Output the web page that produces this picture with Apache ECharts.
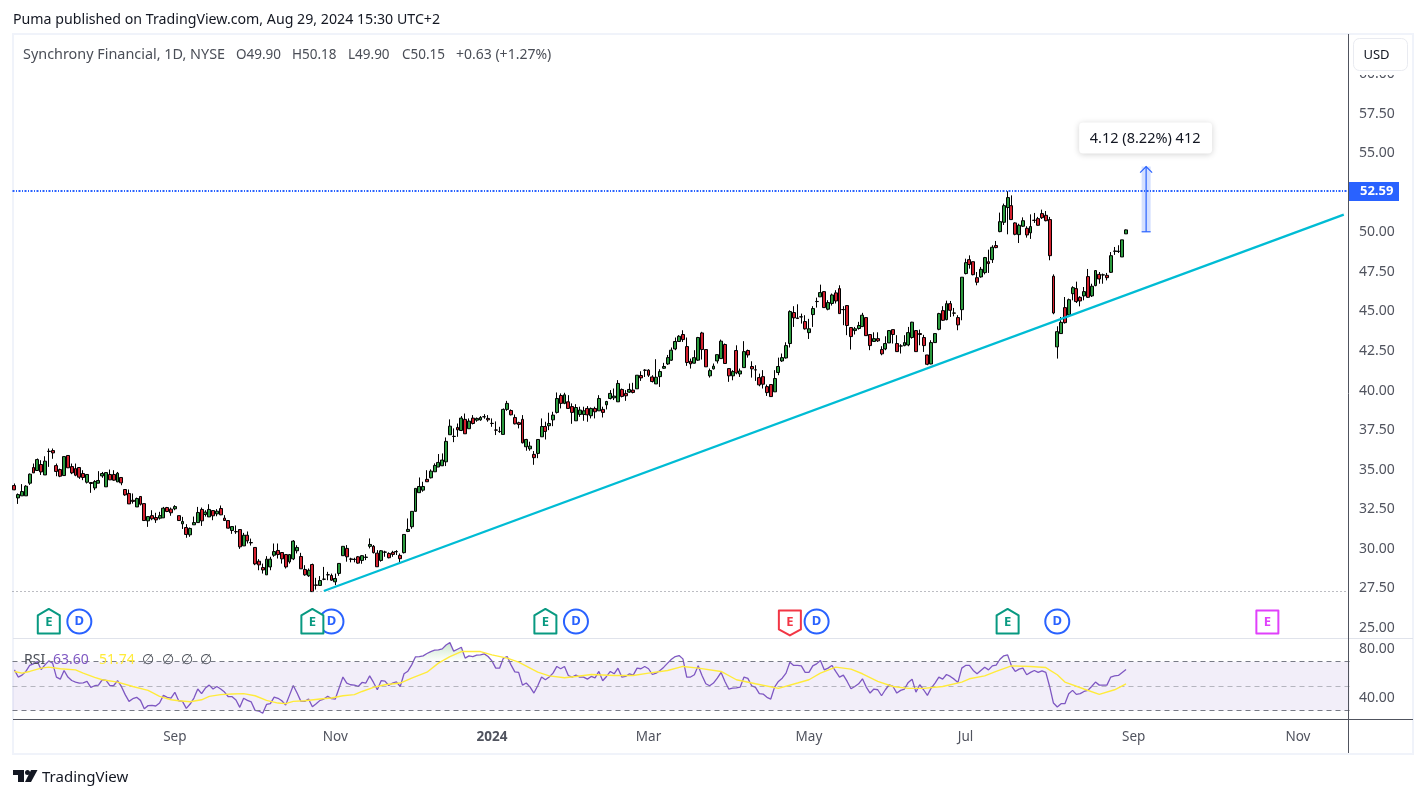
<!DOCTYPE html>
<html>
<head>
<meta charset="utf-8">
<title>Synchrony Financial, 1D</title>
<script src="https://cdn.jsdelivr.net/npm/echarts@6/dist/echarts.min.js"></script>
<style>
  html, body { margin: 0; padding: 0; background: #fff; }
  #chart { width: 1426px; height: 798px; }
</style>
</head>
<body>
<div id="chart"></div>
<script>
// Daily candles as [open, close, low, high], oldest first.
const candles = [
[34.00,33.73,33.71,34.13],[33.22,33.43,32.84,33.50],[33.35,33.62,33.35,34.09],[33.35,33.96,33.35,34.02],[34.15,34.72,34.04,34.76],
[35.14,34.80,34.80,35.39],[34.95,35.64,34.95,35.71],[35.33,34.86,34.67,35.60],[34.67,35.54,34.67,35.85],[36.17,36.15,35.18,36.34],
[36.21,36.06,35.69,36.34],[35.26,34.89,34.59,35.39],[35.01,34.59,34.53,35.07],[34.63,35.83,34.63,35.83],[35.90,35.12,35.12,35.90],
[35.20,34.80,34.72,35.39],[35.07,34.65,34.59,35.39],[35.14,34.53,34.42,35.14],[34.76,34.51,34.34,34.97],[34.21,34.70,34.13,34.70],
[34.19,34.13,33.54,34.19],[33.85,34.25,33.71,34.34],[34.15,34.32,34.15,34.91],[34.61,34.76,34.49,34.86],[33.92,34.82,33.92,34.82],
[34.70,34.36,34.36,35.01],[34.70,34.34,34.30,34.97],[34.23,34.78,34.23,34.86],[34.51,34.17,34.02,34.51],[33.75,33.41,33.35,33.75],
[33.50,32.84,32.84,33.75],[33.07,33.00,32.86,33.50],[32.65,33.18,32.65,33.24],[33.31,32.82,32.74,33.31],[32.86,31.79,31.79,32.86],
[31.77,32.04,31.39,32.04],[32.10,31.90,31.81,32.44],[31.98,31.83,31.64,32.28],[31.94,32.10,31.85,32.34],[31.96,32.57,31.96,32.65],
[32.61,32.36,32.32,32.65],[32.51,32.28,32.09,32.61],[32.53,32.67,32.44,32.76],[32.10,31.79,31.77,32.10],[31.58,31.73,31.26,32.02],
[31.35,30.91,30.70,31.56],[30.89,31.29,30.76,31.35],[31.52,31.66,31.52,32.04],[31.66,32.30,31.66,32.65],[32.49,31.77,31.45,32.61],
[32.17,32.32,32.04,32.44],[32.02,32.49,32.02,32.82],[32.42,32.09,31.81,32.42],[32.21,32.38,32.06,32.51],[32.55,32.15,32.13,32.74],
[31.94,31.79,31.77,32.13],[31.79,31.31,31.29,31.79],[31.16,31.41,30.95,31.41],[31.09,31.08,30.95,31.48],[31.22,30.13,30.00,31.22],
[30.19,30.86,30.19,31.01],[30.86,30.51,30.34,31.10],[30.40,30.38,30.21,30.65],[30.09,29.05,28.97,30.09],[29.22,28.99,28.65,29.35],
[28.82,28.67,28.44,29.07],[28.36,29.35,28.36,29.54],[28.86,29.35,28.65,29.50],[29.60,29.83,29.50,30.34],[29.90,29.64,29.39,30.34],
[29.77,29.37,29.07,29.77],[29.64,28.86,28.76,29.64],[29.18,29.64,29.07,29.64],[29.37,30.49,29.29,30.55],[29.88,30.09,29.71,30.23],
[29.52,28.74,28.74,29.75],[28.70,28.36,28.30,28.97],[28.30,28.65,28.23,28.76],[29.01,27.30,27.30,29.07],[27.72,27.70,27.43,28.17],
[27.69,28.00,27.69,28.28],[28.08,28.09,28.02,28.86],[28.36,28.37,28.02,28.55],[28.32,28.02,27.98,28.44],[27.92,28.13,27.71,28.44],
[28.45,29.08,28.30,29.08],[29.57,30.16,29.57,30.16],[30.03,29.50,29.19,30.24],[29.36,29.35,29.15,29.44],[29.33,29.34,29.15,29.44],
[29.50,29.10,29.06,29.55],[29.27,29.57,29.06,29.61],[29.46,29.48,29.29,29.67],[30.16,30.28,30.03,30.66],[30.16,29.76,29.71,30.24],
[29.73,28.87,28.87,29.92],[29.27,29.88,29.19,29.92],[29.79,29.80,29.50,29.88],[29.71,29.44,29.40,29.78],[29.78,29.65,29.50,29.88],
[29.82,29.83,29.61,29.92],[29.59,29.38,29.12,29.71],[29.76,30.91,29.71,30.91],[31.10,31.23,31.06,31.92],[31.40,32.37,31.27,32.37],
[32.37,33.82,32.35,33.82],[33.55,33.94,33.55,34.51],[33.71,33.94,33.61,34.24],[34.39,34.24,34.24,34.97],[34.49,34.91,34.45,35.02],
[34.87,35.27,34.87,35.40],[35.17,35.46,35.17,35.99],[35.25,35.61,35.23,36.03],[35.50,36.79,35.23,37.04],[37.21,37.75,37.21,38.18],
[37.10,37.11,36.74,37.61],[37.67,37.52,37.08,37.92],[37.48,38.26,37.44,38.39],[38.18,37.27,37.27,38.55],[37.59,38.07,37.59,38.24],
[38.26,37.92,37.86,38.45],[38.13,38.24,38.03,38.30],[38.15,38.30,38.09,38.39],[38.34,38.35,38.22,38.51],[38.24,38.15,38.03,38.45],
[37.93,37.92,37.71,38.24],[37.51,37.50,37.19,38.05],[37.42,37.41,37.33,37.71],[37.23,38.81,37.23,38.87],[38.81,39.19,38.72,39.35],
[38.74,38.47,38.43,38.81],[38.30,37.90,37.86,38.49],[37.97,37.86,37.61,38.03],[38.18,36.70,36.66,38.45],[36.45,36.91,36.20,36.95],
[36.32,36.49,36.20,36.77],[35.97,35.76,35.31,36.18],[36.03,36.91,35.73,36.91],[37.08,37.73,37.08,38.24],[37.73,37.42,36.91,38.03],
[37.78,37.92,37.50,38.60],[38.15,38.45,37.75,38.66],[38.62,39.50,38.55,39.88],[39.69,39.19,38.87,39.82],[39.19,39.73,39.14,39.86],
[39.29,38.87,38.87,39.71],[38.99,38.62,37.90,39.19],[38.09,38.93,38.09,39.14],[38.49,38.77,38.34,38.98],[38.49,38.72,38.09,38.98],
[38.87,38.47,38.03,39.02],[38.41,38.87,38.24,38.93],[38.87,38.66,38.24,38.98],[38.72,39.50,38.72,39.71],[38.81,38.62,38.30,38.98],
[39.10,39.31,38.81,39.35],[39.50,39.82,39.44,40.03],[39.54,39.65,39.40,40.13],[39.29,40.45,39.29,40.66],[40.07,39.63,39.57,40.13],
[39.82,39.67,39.35,40.03],[39.90,40.07,39.86,40.45],[40.03,39.88,39.82,40.49],[40.11,40.97,40.11,40.97],[40.95,40.80,40.61,41.22],
[41.29,41.28,40.86,41.35],[41.29,40.97,40.86,41.35],[40.86,40.57,40.51,40.97],[40.42,40.84,40.42,41.98],[40.88,41.20,40.23,41.35],
[41.41,41.52,41.37,41.75],[41.68,42.08,41.62,42.25],[41.92,42.55,41.87,42.72],[42.63,43.10,42.55,43.35],[43.10,43.43,43.10,43.50],
[43.54,43.22,43.07,43.81],[42.78,41.77,41.56,43.35],[41.85,41.68,41.39,42.02],[41.73,42.08,41.71,42.55],[41.92,43.35,41.87,43.39],
[43.64,42.59,41.96,43.71],[42.59,41.50,41.50,42.59],[40.93,41.26,40.82,41.39],[41.37,41.54,41.33,41.71],[41.87,42.27,41.71,42.27],
[42.02,43.12,42.02,43.22],[42.91,41.71,41.71,42.97],[41.39,40.93,40.55,41.39],[40.93,41.20,40.65,41.29],[42.53,41.12,41.03,42.86],
[41.05,41.24,40.86,41.39],[41.45,42.46,41.45,43.12],[42.53,42.25,42.08,42.59],[41.52,41.37,40.82,41.85],[41.31,41.30,40.61,41.60],
[40.82,40.36,40.27,41.07],[40.88,40.40,40.13,41.29],[40.25,39.87,39.66,40.38],[40.38,39.62,39.62,40.38],[39.92,40.76,39.92,41.29],
[41.14,41.52,40.97,42.08],[41.87,42.08,41.81,42.34],[42.06,42.84,42.02,43.05],[42.97,44.99,42.72,45.07],[44.93,44.59,44.02,45.33],
[44.59,44.55,44.53,45.45],[44.65,44.66,44.23,44.86],[44.36,43.90,43.85,44.76],[43.66,43.90,43.26,44.53],[44.80,45.18,44.02,45.33],
[45.62,45.63,45.24,45.87],[45.92,46.19,45.92,46.69],[46.25,45.24,45.22,46.27],[45.14,45.56,45.07,45.71],[45.50,46.04,45.37,46.13],
[46.17,45.66,45.50,46.34],[46.44,44.86,44.86,46.65],[45.12,45.11,44.13,45.33],[45.37,44.11,43.50,45.39],[43.98,43.41,42.59,43.98],
[43.79,43.90,43.54,44.02],[43.92,44.11,43.85,44.34],[44.04,44.76,44.02,44.91],[44.61,43.47,43.45,44.61],[43.54,42.84,42.55,43.54],
[43.10,43.28,43.10,43.68],[43.28,43.14,43.07,43.68],[42.59,42.32,42.23,42.80],[42.63,42.97,42.55,43.43],[43.01,43.79,43.01,43.81],
[43.85,43.54,42.97,43.85],[42.97,42.46,42.44,43.50],[42.82,42.81,42.34,42.93],[42.84,43.03,42.80,43.50],[42.88,43.66,42.80,44.02],
[43.35,44.32,43.28,44.34],[43.79,42.46,42.44,43.81],[43.60,43.54,42.86,43.85],[43.35,42.84,42.44,43.52],[42.25,41.66,41.60,42.25],
[41.68,43.03,41.66,43.18],[43.03,43.60,43.01,43.60],[43.87,44.86,43.81,44.91],[45.05,44.44,44.40,45.33],[44.48,45.49,44.44,45.68],
[45.49,45.07,44.65,45.66],[44.90,44.89,44.69,45.22],[44.61,44.15,43.81,44.76],[45.11,47.16,44.44,47.16],[47.39,48.08,47.34,48.33],
[48.27,47.96,47.70,48.54],[48.14,47.32,47.28,48.14],[47.13,46.84,46.65,47.49],[47.18,47.66,47.13,47.81],[47.45,48.40,47.34,48.44],
[48.14,48.02,47.43,48.90],[48.27,49.05,48.06,49.18],[49.16,49.03,48.99,49.45],[50.04,50.67,50.00,51.24],[50.63,51.68,50.46,51.81],
[51.56,52.19,49.87,52.59],[51.68,50.80,50.80,52.33],[50.59,49.87,49.81,50.63],[49.85,50.44,49.32,50.54],[50.38,50.73,50.33,50.94],
[50.25,49.83,49.66,50.38],[49.96,50.36,49.58,51.13],[50.76,50.75,50.59,51.22],[50.86,50.44,50.42,50.97],[51.18,50.92,50.84,51.43],
[51.07,50.73,50.69,51.34],[50.80,48.52,48.23,50.97],[47.22,44.90,44.82,47.34],[42.76,43.72,42.02,44.06],[43.60,44.31,43.60,44.65],
[45.24,44.29,44.23,45.91],[44.78,45.74,44.73,45.81],[46.12,46.50,45.70,46.59],[46.44,45.62,45.53,46.88],[45.89,45.66,45.32,45.96],
[45.98,46.25,45.70,46.54],[47.20,45.89,45.85,47.68],[45.98,46.59,45.91,46.75],[46.63,47.58,46.59,47.60],[47.34,47.05,46.75,47.49],
[47.30,47.31,46.75,47.39],[47.28,47.13,46.96,47.43],[47.47,48.52,47.43,48.75],[48.80,48.81,48.57,49.07],[48.79,48.80,48.69,49.18],
[48.44,49.52,48.44,49.52],[49.90,50.15,49.90,50.18]
];

// RSI(14), one value per candle.
const rsiValues = [
63.3,57.4,59.0,62.0,66.9,68.2,70.1,63.6,67.4,70.7,
68.8,57.4,55.7,62.8,57.4,54.6,53.3,52.5,52.7,53.8,
48.9,50.3,50.8,55.2,54.6,50.3,50.5,54.4,49.7,43.0,
37.5,39.7,40.8,38.3,31.5,34.0,34.2,33.7,36.1,42.4,
40.8,40.2,44.9,38.0,37.5,31.8,35.3,40.2,47.6,43.8,
48.4,50.8,47.6,49.7,47.6,45.1,41.3,41.3,38.6,32.6,
40.0,38.3,37.0,30.1,29.6,27.7,35.0,35.6,41.0,40.0,
38.0,34.5,42.4,50.5,44.3,37.5,37.5,39.4,33.1,35.6,
38.3,39.4,41.6,39.7,39.4,48.4,57.4,52.5,51.1,50.8,
49.7,53.0,52.5,58.4,53.0,47.0,54.4,54.1,50.5,52.5,
53.5,49.7,60.1,62.2,67.4,74.0,74.2,74.8,76.7,78.3,
79.4,79.7,80.5,83.7,85.6,78.6,80.2,81.8,72.9,74.8,
74.2,75.3,75.6,76.4,74.2,70.7,64.7,64.7,72.9,74.2,
67.4,61.7,61.2,50.8,52.5,49.2,44.3,50.3,57.4,55.2,
57.4,60.6,66.1,64.2,66.1,58.7,57.4,59.0,57.4,57.4,
55.7,57.9,56.8,62.0,54.4,57.9,62.0,60.1,64.7,57.4,
57.9,60.1,59.0,64.7,64.2,66.1,64.2,59.5,60.6,62.8,
65.5,68.8,72.0,74.2,75.0,72.3,57.4,57.4,59.3,66.6,
58.7,51.9,50.3,52.5,56.5,61.2,53.8,47.6,48.4,48.6,
49.2,57.4,56.3,50.3,48.9,43.8,43.5,40.8,39.4,49.2,
53.8,56.5,60.6,69.6,66.9,66.9,66.6,61.2,61.2,66.6,
68.2,71.0,63.3,64.7,66.9,62.0,57.4,59.0,53.8,47.8,
49.7,51.9,56.0,49.2,44.3,47.6,47.0,42.1,47.0,51.1,
49.7,44.3,46.5,47.6,53.0,55.7,45.1,51.1,47.0,42.4,
48.4,52.5,57.4,55.7,59.5,57.9,55.7,53.0,64.7,66.9,
66.9,62.8,60.1,62.8,65.5,63.3,66.6,67.1,72.0,74.8,
75.6,66.6,62.0,63.9,64.7,59.3,61.2,62.8,61.2,62.5,
61.2,49.7,36.1,32.9,35.6,35.6,43.8,46.5,43.2,43.8,
45.6,46.5,49.7,53.3,50.8,50.8,50.8,57.4,58.4,58.7,
61.2,63.6
];

// RSI moving average, as [candle number, value].
const rsiAverage = [
[0,62.0],[2,60.6],[4,62.0],[7,64.7],[9,65.5],[12,64.2],[16,63.3],[18,60.6],[21,57.1],[23,55.2],
[27,53.3],[31,49.7],[35,46.5],[38,41.6],[41,38.8],[43,38.0],[46,37.2],[49,38.8],[51,41.6],[54,43.0],
[57,43.5],[60,43.8],[63,42.1],[66,38.3],[69,36.1],[71,35.6],[73,37.5],[76,38.0],[80,39.4],[83,40.2],
[86,42.1],[89,43.0],[91,45.6],[94,48.9],[97,51.1],[101,52.5],[104,56.5],[108,61.4],[111,68.8],[114,74.2],
[117,78.3],[122,78.3],[125,75.6],[129,72.9],[132,69.6],[137,61.4],[140,58.4],[144,56.8],[147,57.9],[151,59.5],
[157,58.7],[162,58.7],[166,60.6],[171,62.8],[175,66.1],[179,64.7],[185,62.0],[189,55.2],[194,51.9],[200,48.1],
[205,52.5],[208,55.2],[211,60.6],[215,65.5],[219,63.9],[222,60.1],[226,53.8],[230,49.7],[234,48.1],[238,48.1],
[243,49.7],[248,53.3],[250,56.0],[254,58.4],[257,62.0],[261,66.6],[266,66.1],[270,65.2],[273,59.3],[275,53.3],
[280,47.6],[284,43.2],[288,47.0],[291,51.74]
];

// Axis content.
const priceTicks = [25, 27.5, 30, 32.5, 35, 37.5, 40, 42.5, 45, 47.5, 50, 52.5, 55, 57.5, 60];
const rsiTicks = [40, 80];
const monthSlots = [42, 84, 125, 166, 208, 249, 293, 336];
const monthNames = ['Sep', 'Nov', '2024', 'Mar', 'May', 'Jul', 'Sep', 'Nov'];
const slotCount = 350;

// Levels and drawn annotations, in price terms.
const highLevel = 52.59;
const lowLevel = 27.3;
const trendLine = [[81, 27.34], [348, 51.11]];
const moveArrow = [[296, 50.03, 54.15]];
const moveText = '4.12 (8.22%) 412';

// Earnings and dividend markers.
const markerLevel = 25.35;
const dividendSlots = [17, 83, 147, 210, 273];
const earningsSlots = [9, 78, 139, 203, 260, 328];
const earningsKinds = ['beat', 'beat', 'beat', 'miss', 'beat', 'next'];

const FONT = '"Noto Sans", sans-serif';
const INK = '#131722';
const SOFT = '#4a4e57';
const BLUE = '#2962ff';
const earningsColors = { beat: '#089981', miss: '#f23645', next: '#e040fb' };

const slots = Array.from({ length: slotCount }, (_, i) => String(i));

function drawDividend(params, api) {
  const p = api.coord([api.value(0), api.value(1)]);
  return {
    type: 'group',
    children: [
      { type: 'circle', shape: { cx: p[0], cy: p[1] - 1, r: 12 }, style: { fill: '#fff', stroke: BLUE, lineWidth: 2 } },
      { type: 'text', style: { x: p[0], y: p[1] - 1, text: 'D', fill: BLUE, font: 'bold 13px ' + FONT, align: 'center', verticalAlign: 'middle' } }
    ]
  };
}

function drawEarnings(params, api) {
  const p = api.coord([api.value(0), api.value(1)]);
  const kind = earningsKinds[params.dataIndex];
  const color = earningsColors[kind];
  const cx = p[0], cy = p[1], w = 11;
  let points;
  if (kind === 'beat') {
    points = [[cx - w, cy + 11], [cx + w, cy + 11], [cx + w, cy - 7], [cx, cy - 13.5], [cx - w, cy - 7]];
  } else if (kind === 'miss') {
    points = [[cx - w, cy - 12], [cx + w, cy - 12], [cx + w, cy + 7], [cx, cy + 13], [cx - w, cy + 7]];
  } else {
    points = [[cx - w, cy - 12], [cx + w, cy - 12], [cx + w, cy + 11], [cx - w, cy + 11]];
  }
  return {
    type: 'group',
    children: [
      { type: 'polygon', shape: { points: points }, style: { fill: '#fff', stroke: color, lineWidth: 2, lineJoin: 'round' } },
      { type: 'text', style: { x: cx, y: cy, text: 'E', fill: color, font: 'bold 13px ' + FONT, align: 'center', verticalAlign: 'middle' } }
    ]
  };
}

function drawMoveArrow(params, api) {
  const base = api.coord([api.value(0), api.value(1)]);
  const tip = api.coord([api.value(0), api.value(2)]);
  const x = base[0] + 1, h = 4.5;
  const line = { stroke: BLUE, lineWidth: 1.2, fill: null };
  return {
    type: 'group',
    children: [
      { type: 'rect', shape: { x: x - h, y: tip[1], width: 2 * h, height: base[1] - tip[1] }, style: { fill: 'rgba(41,98,255,0.2)' } },
      { type: 'line', shape: { x1: x, y1: base[1], x2: x, y2: tip[1] }, style: line },
      { type: 'line', shape: { x1: x - h, y1: base[1], x2: x + h, y2: base[1] }, style: line },
      { type: 'polyline', shape: { points: [[x - 6, tip[1] + 6], [x, tip[1]], [x + 6, tip[1] + 6]] }, style: line },
      { type: 'rect', shape: { x: x - 67, y: tip[1] - 44, width: 133, height: 31, r: 4 },
        style: { fill: '#fff', shadowBlur: 6, shadowColor: 'rgba(0,0,0,0.18)', shadowOffsetY: 1 } },
      { type: 'text', style: { x: x - 1, y: tip[1] - 28, text: moveText, fill: INK, font: '14.5px ' + FONT, align: 'center', verticalAlign: 'middle' } }
    ]
  };
}

// Full-width horizontal level; the high carries a dash-dot line and a price tag on the axis.
function drawLevel(params, api) {
  const box = params.coordSys;
  const level = api.value(0);
  const raw = api.coord([0, level])[1];
  const isHigh = level === highLevel;
  const y = isHigh ? Math.round(raw) : Math.floor(raw) + 0.5;
  const children = [{
    type: 'line',
    shape: { x1: box.x, y1: y, x2: box.x + box.width - 1, y2: y },
    style: {
      stroke: isHigh ? BLUE : '#787b86',
      lineWidth: isHigh ? 2 : 1,
      lineDash: isHigh ? [2, 1.5, 1, 1.5] : [1, 3],
      fill: null
    }
  }];
  if (isHigh) {
    children.push(
      { type: 'rect', shape: { x: box.x + box.width - 0.5, y: y - 9, width: 50, height: 19 }, style: { fill: BLUE } },
      { type: 'text', style: { x: box.x + box.width + 10.5, y: y + 0.5, text: level.toFixed(2), fill: '#fff', font: 'bold 13px ' + FONT, verticalAlign: 'middle' } }
    );
  }
  return { type: 'group', children };
}

function label(x, y, text, fill, extra) {
  return { type: 'text', z: 100, style: Object.assign({ x: x, y: y, text: text, fill: fill, font: '13.5px ' + FONT, verticalAlign: 'middle' }, extra || {}) };
}

function rule(x1, y1, x2, y2, stroke, width) {
  return { type: 'line', z: 90, shape: { x1, y1, x2, y2 }, style: { stroke, lineWidth: width || 1 } };
}

const decorations = [
  { type: 'rect', z: 1, shape: { x: 13, y: 34, width: 1400, height: 720 }, style: { fill: null, stroke: '#f0f3fa', lineWidth: 2 } },
  rule(13, 638.5, 1413, 638.5, '#e0e3eb'),
  rule(13, 719.5, 1413, 719.5, '#50535e'),
  rule(1348.5, 34, 1348.5, 753, '#50535e'),

  // Cover behind the currency button, which hides the top tick.
  { type: 'rect', z: 95, shape: { x: 1350, y: 35, width: 62, height: 40 }, style: { fill: '#fff' } },
  { type: 'rect', z: 96, shape: { x: 1353.5, y: 38.5, width: 54, height: 32, r: 6 }, style: { fill: '#fff', stroke: '#e9ebf1', lineWidth: 1 } },
  label(1376.5, 55.5, 'USD', INK, { align: 'center', font: '13px ' + FONT }),

  label(13, 20, 'Puma published on TradingView.com, Aug 29, 2024 15:30 UTC+2', INK, { font: '14.2px ' + FONT }),

  label(23, 55, 'Synchrony Financial, 1D, NYSE', SOFT, { font: '14.4px ' + FONT }),
  label(236, 55, 'O49.90', SOFT),
  label(292, 55, 'H50.18', SOFT),
  label(348, 55, 'L49.90', SOFT),
  label(402, 55, 'C50.15', SOFT),
  label(456, 55, '+0.63 (+1.27%)', SOFT, { font: '14px ' + FONT }),

  label(24, 660, 'RSI', SOFT, { font: '14px ' + FONT }),
  label(53, 660, '63.60', '#7e57c2', { font: '14px ' + FONT }),
  label(99, 660, '51.74', '#ffeb3b', { font: '14px ' + FONT }),
  label(148, 660, '∅', SOFT, { align: 'center' }),
  label(168, 660, '∅', SOFT, { align: 'center' }),
  label(187, 660, '∅', SOFT, { align: 'center' }),
  label(206, 660, '∅', SOFT, { align: 'center' }),

  // Brand mark and wordmark in the footer.
  { type: 'polygon', z: 100, shape: { points: [[13, 770], [24, 770], [24, 782], [18, 782], [18, 775], [13, 775]] }, style: { fill: INK } },
  { type: 'circle', z: 100, shape: { cx: 27.5, cy: 772.5, r: 2.5 }, style: { fill: INK } },
  { type: 'polygon', z: 100, shape: { points: [[31, 770], [37.5, 770], [31, 782], [25, 782]] }, style: { fill: INK } },
  label(42, 777.5, 'TradingView', INK, { font: '15px ' + FONT })
];

const chart = echarts.init(document.getElementById('chart'), null, { renderer: 'canvas' });
chart.setOption({
  animation: false,
  backgroundColor: '#ffffff',
  textStyle: { fontFamily: FONT },
  graphic: { elements: decorations },
  grid: [
    { left: 12.5, top: 35, width: 1337, height: 603 },
    { left: 12.5, top: 638, width: 1337, height: 81.3 }
  ],
  xAxis: [
    { type: 'category', gridIndex: 0, data: slots, boundaryGap: true, show: false },
    {
      type: 'category', gridIndex: 1, data: slots, boundaryGap: true,
      axisLine: { show: false }, axisTick: { show: false }, splitLine: { show: false },
      axisLabel: {
        margin: 11,
        color: '#50535e',
        fontFamily: FONT,
        fontSize: 13.5,
        hideOverlap: false,
        interval: (i) => monthSlots.includes(i),
        formatter: (value, i) => {
          const name = monthNames[monthSlots.indexOf(i)];
          return /^\d+$/.test(name) ? '{year|' + name + '}' : name;
        },
        rich: { year: { fontWeight: 'bold', fontSize: 13.5, color: '#50535e', fontFamily: FONT } }
      }
    }
  ],
  yAxis: [
    {
      type: 'value', gridIndex: 0, position: 'right', scale: true, min: 24.37, max: 62.46,
      axisLine: { show: false }, axisTick: { show: false }, splitLine: { show: false },
      axisLabel: {
        customValues: priceTicks, margin: 9.5, color: '#50535e', fontFamily: FONT, fontSize: 14, padding: [5, 0, 0, 0],
        formatter: (v) => v.toFixed(2)
      }
    },
    {
      type: 'value', gridIndex: 1, position: 'right', min: 22.8, max: 89.4,
      axisLine: { show: false }, axisTick: { show: false }, splitLine: { show: false },
      axisLabel: {
        customValues: rsiTicks, margin: 9.5, color: '#50535e', fontFamily: FONT, fontSize: 14, padding: [5, 0, 0, 0],
        formatter: (v) => v.toFixed(2)
      }
    }
  ],
  series: [
    {
      name: 'Synchrony Financial',
      type: 'candlestick',
      xAxisIndex: 0, yAxisIndex: 0,
      data: candles,
      barWidth: 3.4,
      itemStyle: { color: '#2b9a3e', color0: '#d3202e', borderColor: '#000000', borderColor0: '#000000', borderWidth: 1 }
    },
    {
      name: 'Trend',
      type: 'line',
      xAxisIndex: 0, yAxisIndex: 0,
      data: trendLine,
      symbol: 'none',
      lineStyle: { color: '#00bcd4', width: 2.3 },
      z: 3
    },
    {
      name: 'Levels',
      type: 'custom',
      xAxisIndex: 0, yAxisIndex: 0,
      data: [[highLevel], [lowLevel]],
      encode: { y: 0 },
      renderItem: drawLevel,
      clip: false,
      z: 3
    },
    {
      name: 'Move',
      type: 'custom',
      xAxisIndex: 0, yAxisIndex: 0,
      data: moveArrow,
      encode: { x: 0, y: [1, 2] },
      renderItem: drawMoveArrow,
      clip: false,
      z: 4
    },
    {
      name: 'Dividends',
      type: 'custom',
      xAxisIndex: 0, yAxisIndex: 0,
      data: dividendSlots.map((s) => [s, markerLevel]),
      encode: { x: 0, y: 1 },
      renderItem: drawDividend,
      z: 5
    },
    {
      name: 'Earnings',
      type: 'custom',
      xAxisIndex: 0, yAxisIndex: 0,
      data: earningsSlots.map((s) => [s, markerLevel]),
      encode: { x: 0, y: 1 },
      renderItem: drawEarnings,
      z: 6
    },
    {
      name: 'Overbought fill',
      type: 'line',
      xAxisIndex: 1, yAxisIndex: 1,
      data: rsiValues.map((v) => Math.max(v, 70)),
      symbol: 'none',
      lineStyle: { width: 0 },
      areaStyle: {
        origin: 70,
        color: new echarts.graphic.LinearGradient(0, 0, 0, 1, [
          { offset: 0, color: 'rgba(76,175,80,0.4)' },
          { offset: 1, color: 'rgba(76,175,80,0)' }
        ])
      },
      z: 2
    },
    {
      name: 'RSI',
      type: 'line',
      xAxisIndex: 1, yAxisIndex: 1,
      data: rsiValues,
      symbol: 'none',
      lineStyle: { color: '#7e57c2', width: 1.3 },
      z: 4,
      markArea: {
        silent: true,
        itemStyle: { color: 'rgba(126,87,194,0.1)' },
        data: [[{ yAxis: 30 }, { yAxis: 70 }]]
      },
      markLine: {
        silent: true, symbol: 'none', animation: false, label: { show: false },
        data: [
          { yAxis: 70, lineStyle: { color: '#787b86', type: [5, 4], width: 1 } },
          { yAxis: 50, lineStyle: { color: 'rgba(120,123,134,0.5)', type: [5, 4], width: 1 } },
          { yAxis: 30, lineStyle: { color: '#787b86', type: [5, 4], width: 1 } }
        ]
      }
    },
    {
      name: 'RSI average',
      type: 'line',
      xAxisIndex: 1, yAxisIndex: 1,
      data: rsiAverage,
      symbol: 'none',
      lineStyle: { color: '#ffeb3b', width: 1.4 },
      z: 5
    }
  ]
});
</script>
</body>
</html>
